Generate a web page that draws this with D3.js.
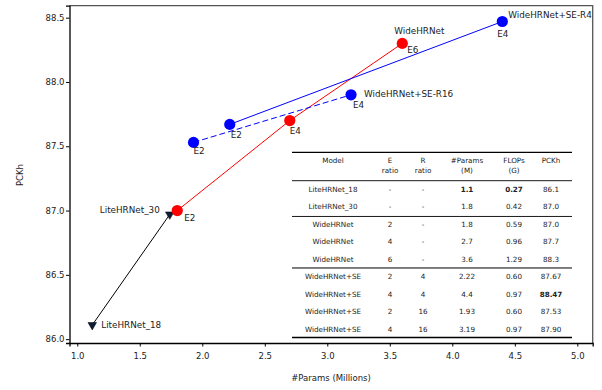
<!DOCTYPE html>
<html>
<head>
<meta charset="utf-8">
<script src="https://cdn.jsdelivr.net/npm/d3@7"></script>
<style>
    body { margin: 0; background: #fff; }
    svg { display: block; font-family: "DejaVu Sans", sans-serif; }
</style>
</head>
<body>
<svg width="602" height="390"></svg>
<script>
// values
var liteX = [1.12, 1.74];
var liteY = [86.11, 86.97];
var liteNames = ["LiteHRNet_18", "LiteHRNet_30"];

var wideX = [1.8, 2.7, 3.6];
var wideY = [87.0, 87.7, 88.3];
var wideE = ["E2", "E4", "E6"];

var r4X = [2.22, 4.4];
var r4Y = [87.67, 88.47];
var r4E = ["E2", "E4"];

var r16X = [1.93, 3.19];
var r16Y = [87.53, 87.90];
var r16E = ["E2", "E4"];

var xTicks = [1.0, 1.5, 2.0, 2.5, 3.0, 3.5, 4.0, 4.5, 5.0];
var yTicks = [86.0, 86.5, 87.0, 87.5, 88.0, 88.5];

var tableHead1 = ["Model", "E", "R", "#Params", "FLOPs", "PCKh"];
var tableHead2 = ["", "ratio", "ratio", "(M)", "(G)", ""];
var tableRows = [
    ["LiteHRNet_18", "-", "-", "1.1", "0.27", "86.1"],
    ["LiteHRNet_30", "-", "-", "1.8", "0.42", "87.0"],
    ["WideHRNet", "2", "-", "1.8", "0.59", "87.0"],
    ["WideHRNet", "4", "-", "2.7", "0.96", "87.7"],
    ["WideHRNet", "6", "-", "3.6", "1.29", "88.3"],
    ["WideHRNet+SE", "2", "4", "2.22", "0.60", "87.67"],
    ["WideHRNet+SE", "4", "4", "4.4", "0.97", "88.47"],
    ["WideHRNet+SE", "2", "16", "1.93", "0.60", "87.53"],
    ["WideHRNet+SE", "4", "16", "3.19", "0.97", "87.90"]
];
var boldCells = ["0-3", "0-4", "6-5"];

var svg = d3.select("svg");

var x = d3.scaleLinear().domain([0.938, 5.123]).range([69.5, 592.7]);
var y = d3.scaleLinear().domain([85.97, 88.593]).range([343, 5.7]);

function pts(xs, ys) {
    return xs.map(function(v, i) { return [v, ys[i]]; });
}

var line = d3.line()
    .x(function(d) { return x(d[0]); })
    .y(function(d) { return y(d[1]); });

// frame (top/right grey)
svg.append("path")
    .attr("d", "M69.5,5.7H592.7V343")
    .attr("fill", "none")
    .attr("stroke", "#555")
    .attr("stroke-width", 1.3);

// axes
var xAxis = svg.append("g")
    .attr("transform", "translate(0,343)")
    .call(d3.axisBottom(x).tickValues(xTicks).tickFormat(d3.format(".1f")).tickSizeOuter(0).tickSize(3.5));
var yAxis = svg.append("g")
    .attr("transform", "translate(69.5,0)")
    .call(d3.axisLeft(y).tickValues(yTicks).tickFormat(d3.format(".1f")).tickSizeOuter(0).tickSize(3.5));

[xAxis, yAxis].forEach(function(g) {
    g.select(".domain").attr("stroke", "#000").attr("stroke-width", 1.3);
    g.selectAll(".tick line").attr("stroke", "#000").attr("stroke-width", 1);
    g.selectAll(".tick text")
        .attr("font-family", "DejaVu Sans")
        .attr("font-size", 8.5)
        .attr("fill", "#222");
});
xAxis.selectAll(".tick text").attr("dy", "1.1em");
yAxis.selectAll(".tick text").attr("x", -5);

svg.append("text")
    .attr("x", 331).attr("y", 381)
    .attr("text-anchor", "middle")
    .attr("font-size", 8.5).attr("fill", "#222")
    .text("#Params (Millions)");

svg.append("text")
    .attr("transform", "translate(23,175) rotate(-90)")
    .attr("text-anchor", "middle")
    .attr("font-size", 8.5).attr("fill", "#222")
    .text("PCKh");

// lines
svg.append("path").datum(pts(liteX, liteY))
    .attr("d", line).attr("fill", "none").attr("stroke", "#000").attr("stroke-width", 1);
svg.append("path").datum(pts(wideX, wideY))
    .attr("d", line).attr("fill", "none").attr("stroke", "#ff0000").attr("stroke-width", 1);
svg.append("path").datum(pts(r4X, r4Y))
    .attr("d", line).attr("fill", "none").attr("stroke", "#0000ff").attr("stroke-width", 1);
svg.append("path").datum(pts(r16X, r16Y))
    .attr("d", line).attr("fill", "none").attr("stroke", "#0000ff").attr("stroke-width", 1)
    .attr("stroke-dasharray", "6,3");

// markers
var tri = d3.symbol().type(d3.symbolTriangle).size(32);
svg.append("g").selectAll("path")
    .data(pts(liteX, liteY))
    .enter().append("path")
    .attr("d", tri)
    .attr("transform", function(d) { return "translate(" + x(d[0]) + "," + y(d[1]) + ") rotate(180)"; })
    .attr("fill", "#0e1c38")
    .attr("stroke", "#000")
    .attr("stroke-width", 0.5);

function dots(xs, ys, color) {
    svg.append("g").selectAll("circle")
        .data(pts(xs, ys))
        .enter().append("circle")
        .attr("cx", function(d) { return x(d[0]); })
        .attr("cy", function(d) { return y(d[1]); })
        .attr("r", 5.6)
        .attr("fill", color);
}
dots(wideX, wideY, "#ff0000");
dots(r4X, r4Y, "#0000ff");
dots(r16X, r16Y, "#0000ff");

// labels: [text, xval, yval, dx, dy, anchor]
function label(t, xv, yv, dx, dy, anchor) {
    svg.append("text")
        .attr("x", x(xv) + dx)
        .attr("y", y(yv) + dy)
        .attr("dy", "0.35em")
        .attr("text-anchor", anchor || "start")
        .attr("font-size", 8.8)
        .attr("fill", "#222")
        .text(t);
}
var wideOff = [[7, 7], [0, 10], [5, 7]];
wideE.forEach(function(t, i) { label(t, wideX[i], wideY[i], wideOff[i][0], wideOff[i][1]); });
var r4Off = [[1, 11], [-5, 12]];
r4E.forEach(function(t, i) { label(t, r4X[i], r4Y[i], r4Off[i][0], r4Off[i][1]); });
var r16Off = [[0, 9], [2, 10]];
r16E.forEach(function(t, i) { label(t, r16X[i], r16Y[i], r16Off[i][0], r16Off[i][1]); });

label("WideHRNet", wideX[2], wideY[2], -8, -12);
label("WideHRNet+SE-R4", r4X[1], r4Y[1], 6, -7);
label("WideHRNet+SE-R16", r16X[1], r16Y[1], 13, -1);
label(liteNames[1], liteX[1], liteY[1], -10, -4, "end");
label(liteNames[0], liteX[0], liteY[0], 9, 0);

// table
var colX = [333, 390, 423, 467, 514, 551];
var rowY = d3.scaleLinear().domain([0, 8]).range([189.5, 329]);
var tbl = svg.append("g").attr("font-size", 7.2).attr("fill", "#222").attr("text-anchor", "middle");

tableHead1.forEach(function(t, j) {
    tbl.append("text").attr("x", colX[j]).attr("y", 160).attr("dy", "0.35em").text(t);
});
tableHead2.forEach(function(t, j) {
    tbl.append("text").attr("x", colX[j]).attr("y", 170.5).attr("dy", "0.35em").text(t);
});
tableRows.forEach(function(row, i) {
    row.forEach(function(t, j) {
        tbl.append("text")
            .attr("x", colX[j]).attr("y", rowY(i)).attr("dy", "0.35em")
            .attr("font-weight", boldCells.indexOf(i + "-" + j) >= 0 ? "bold" : null)
            .text(t);
    });
});

var rules = [[152.3, 1.3], [180.7, 0.9], [(rowY(1) + rowY(2)) / 2 + 0.8, 0.9], [(rowY(4) + rowY(5)) / 2, 1], [337.5, 1.3]];
rules.forEach(function(r) {
    svg.append("line")
        .attr("x1", 292).attr("x2", 572)
        .attr("y1", r[0]).attr("y2", r[0])
        .attr("stroke", "#000").attr("stroke-width", r[1]);
});
</script>
</body>
</html>
